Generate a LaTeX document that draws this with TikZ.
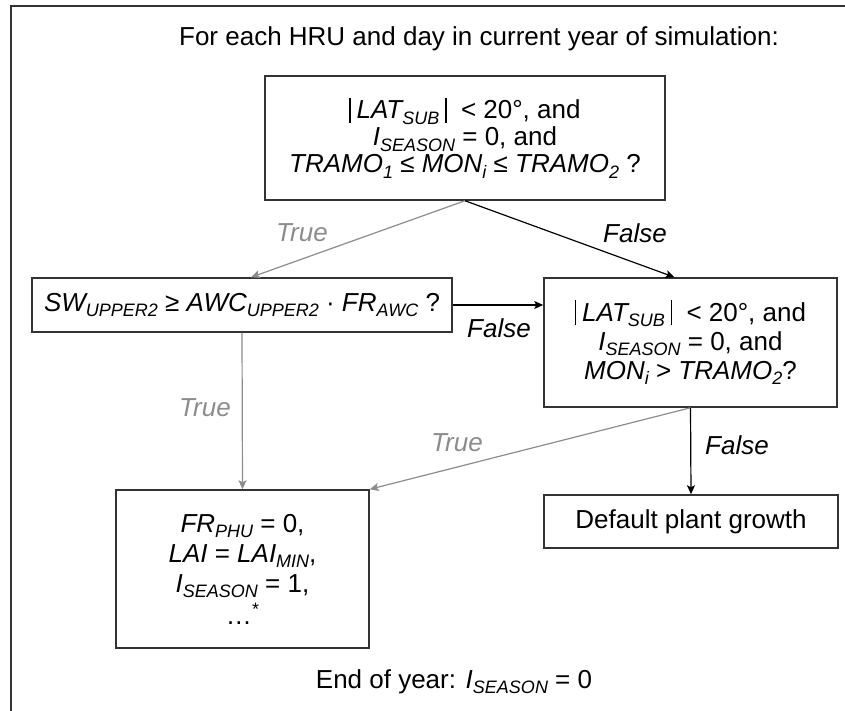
\documentclass[tikz,border=0pt]{standalone}
\usepackage{fontspec}
\setmainfont{Liberation Sans}
\usepackage{xcolor}
\usetikzlibrary{arrows.meta}

\definecolor{grisv}{HTML}{8C8C8C}
\newcommand\subi[1]{\raisebox{-0.4ex}{\fontsize{9pt}{9pt}\selectfont #1}}
\newcommand\barra{\raisebox{-2pt}{\rule{0.6pt}{12.5pt}}}

\begin{document}
\begin{tikzpicture}[x=0.5pt,y=-0.5pt,
	every node/.style={font=\fontsize{13pt}{14pt}\selectfont},
	caja/.style={draw=black!80,line width=0.75pt,align=center,inner sep=0pt},
	flecha/.style={-{Stealth[length=4.5pt,width=4pt,inset=1pt]},line width=0.6pt},
	verdad/.style={text=grisv,font=\fontsize{13pt}{14pt}\selectfont\itshape},
	falso/.style={font=\fontsize{13pt}{14pt}\selectfont\itshape}]
	
	% Ventana
	\useasboundingbox (0,0) rectangle (845,711);
	\draw[black!80,line width=0.75pt] (845,6) -- (11,6) -- (11,711);
	
	% Textos
	\node[anchor=base] (tit) at (479,46) {For each HRU and day in current year of simulation:};
	\node[anchor=base] (fin) at (454,688) {End of year: \textit{I\subi{SEASON}} = 0};
	
	% Cajas
	\node[caja,minimum width=200pt,minimum height=62pt,
		font=\fontsize{13pt}{13.5pt}\selectfont] (top) at (465,138)
	{\barra\kern3pt\textit{LAT\subi{SUB}}\kern3pt\barra\ \ < 20°, and\\
		\textit{I\subi{SEASON}} = 0, and\\
		\textit{TRAMO\subi{1}} ≤ \textit{MON\subi{i}} ≤ \textit{TRAMO\subi{2}} ?};
	\node[caja,minimum width=210pt,minimum height=27pt] (sw) at (242,305)
	{\textit{SW\subi{UPPER2}} ≥ \textit{AWC\subi{UPPER2}} · \textit{FR\subi{AWC}} ?};
	\node[caja,minimum width=146.5pt,minimum height=64.5pt,
		font=\fontsize{13pt}{14.5pt}\selectfont] (lat) at (690.5,342.5)
	{\barra\kern3pt\textit{LAT\subi{SUB}}\kern3pt\barra\ \ < 20°, and\\
		\textit{I\subi{SEASON}} = 0, and\\
		\textit{MON\subi{i}} > \textit{TRAMO\subi{2}}?};
	\node[caja,minimum width=126.5pt,minimum height=79pt,
		font=\fontsize{13pt}{15pt}\selectfont] (res) at (242.5,569)
	{\textit{FR\subi{PHU}} = 0,\\
		\textit{LAI} = \textit{LAI\subi{MIN}},\\
		\textit{I\subi{SEASON}} = 1,\\[1pt]
		…\raisebox{0.6ex}{\fontsize{9pt}{9pt}\selectfont *}};
	\node[caja,minimum width=147pt,minimum height=26.5pt] (def) at (691,521.5)
	{Default plant growth};
	
	% Flechas
	\draw[flecha,grisv] (top.south) -- ([xshift=4.5pt]sw.north);
	\draw[flecha] (top.south) -- ([xshift=-8pt]lat.north);
	\draw[flecha] (sw.east) -- (sw.east -| lat.west);
	\draw[flecha,grisv] (sw.south) -- (res.north);
	\draw[flecha,grisv] (lat.south) -- (res.north east);
	\draw[flecha] (lat.south) -- (def.north);
	
	% Etiquetas
	\node[verdad] (v1) at (302,233) {True};
	\node[falso] (f1) at (635,233) {False};
	\node[falso] (f2) at (499,328) {False};
	\node[verdad] (v2) at (205,408) {True};
	\node[verdad] (v3) at (457,443) {True};
	\node[falso] (f3) at (737,445) {False};
	
\end{tikzpicture}
\end{document}
